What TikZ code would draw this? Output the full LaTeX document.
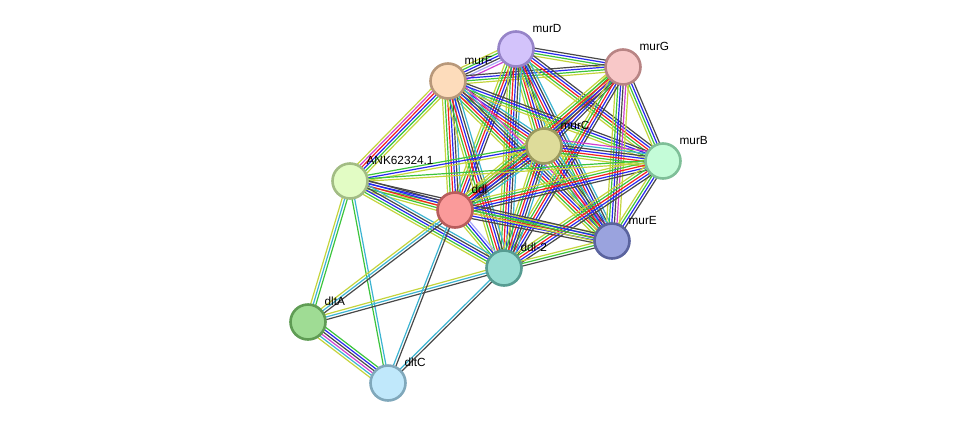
\documentclass[tikz,border=0pt]{standalone}
\usepackage{fontspec}
\setmainfont{Liberation Sans}
\usepackage{tikz}
\usetikzlibrary{
    calc,
    backgrounds
}

% Edge colours
\definecolor{egreen}{HTML}{3CC43C}
\definecolor{ered}{HTML}{F52020}
\definecolor{eblue}{HTML}{2828F0}
\definecolor{eblack}{HTML}{484848}
\definecolor{ecyan}{HTML}{3CB4D2}
\definecolor{eyel}{HTML}{C4D43C}
\definecolor{emag}{HTML}{D040D0}
\definecolor{elav}{HTML}{A8A8F8}

\tikzset{
    prot/.style={circle, minimum size=35pt, inner sep=0pt, line width=2.6pt},
    plbl/.style={font=\fontsize{11.8}{13}\selectfont, inner sep=1pt, text=black, label distance=3pt},
    link/.style={line width=1.2pt}
}

% Bundle of parallel coloured lines between two nodes
\newcommand{\linkbundle}[3]{%
    \foreach \c [count=\i] in {#3} {\xdef\bundlen{\i}}
    \foreach \c [count=\i] in {#3} {
        \pgfmathsetmacro{\off}{(\i-(\bundlen+1)/2)*2.6}
        \draw[link, \c] ($(#1.center)!\off pt!90:(#2.center)$) -- ($(#2.center)!\off pt!-90:(#1.center)$);
    }
}

\begin{document}
\begin{tikzpicture}[x=1pt, y=-1pt]
        \useasboundingbox (0,0) rectangle (975,429);

        % Draw protein nodes
        \node[prot, fill={rgb,255:red,211;green,195;blue,251}, draw={rgb,255:red,150;green,132;blue,200}, label={[plbl]45:murD}] (murD) at (516,49) {};
        \node[prot, fill={rgb,255:red,248;green,200;blue,200}, draw={rgb,255:red,184;green,132;blue,132}, label={[plbl]45:murG}] (murG) at (623,67) {};
        \node[prot, fill={rgb,255:red,253;green,220;blue,187}, draw={rgb,255:red,184;green,152;blue,122}, label={[plbl]45:murF}] (murF) at (448,81) {};
        \node[prot, fill={rgb,255:red,222;green,220;blue,154}, draw={rgb,255:red,156;green,154;blue,94}, label={[plbl]45:murC}] (murC) at (544,146) {};
        \node[prot, fill={rgb,255:red,196;green,252;blue,216}, draw={rgb,255:red,127;green,191;blue,152}, label={[plbl]45:murB}] (murB) at (663,161) {};
        \node[prot, fill={rgb,255:red,226;green,252;blue,196}, draw={rgb,255:red,162;green,188;blue,132}, label={[plbl]45:ANK62324.1}] (ank) at (350,181) {};
        \node[prot, fill={rgb,255:red,250;green,154;blue,154}, draw={rgb,255:red,184;green,92;blue,92}, label={[plbl]45:ddl}] (ddl) at (455,210) {};
        \node[prot, fill={rgb,255:red,154;green,163;blue,222}, draw={rgb,255:red,90;green,99;blue,158}, label={[plbl]45:murE}] (murE) at (612,241) {};
        \node[prot, fill={rgb,255:red,151;green,220;blue,210}, draw={rgb,255:red,87;green,156;blue,146}, label={[plbl]45:ddl-2}] (ddl2) at (504,268) {};
        \node[prot, fill={rgb,255:red,159;green,220;blue,148}, draw={rgb,255:red,95;green,156;blue,84}, label={[plbl]45:dltA}] (dltA) at (308,322) {};
        \node[prot, fill={rgb,255:red,192;green,232;blue,251}, draw={rgb,255:red,128;green,168;blue,187}, label={[plbl]45:dltC}] (dltC) at (388,383) {};

        % Draw edges behind the nodes
        \begin{pgfonlayer}{background}
            % Mur cluster
            \linkbundle{murD}{murF}{eyel,egreen,eblue,eblack,elav,emag}
            \linkbundle{murD}{murG}{eyel,egreen,eblue,eblack}
            \linkbundle{murF}{murG}{eyel,egreen,eblue,eblack}
            \linkbundle{murD}{murC}{eyel,egreen,ered,eblue,eblack,ecyan}
            \linkbundle{murD}{murB}{eyel,egreen,ered,eblue,eblack}
            \linkbundle{murD}{murE}{eyel,egreen,ered,eblue,eblack,ecyan}
            \linkbundle{murD}{ddl}{eyel,egreen,ered,eblue,eblack}
            \linkbundle{murD}{ddl2}{eyel,egreen,ered,eblue,eblack,ecyan}
            \linkbundle{murF}{murC}{eyel,egreen,ered,eblue,eblack,ecyan}
            \linkbundle{murF}{murB}{eyel,egreen,eblue,eblack}
            \linkbundle{murF}{murE}{eyel,egreen,ered,eblue,eblack,ecyan,emag}
            \linkbundle{murF}{ddl}{eyel,egreen,ered,eblue,eblack,ecyan}
            \linkbundle{murF}{ddl2}{eyel,egreen,ered,eblue,eblack,ecyan}
            \linkbundle{murG}{murC}{eyel,egreen,ered,eblue,eblack}
            \linkbundle{murG}{murB}{eyel,egreen,eblue,eblack}
            \linkbundle{murG}{murE}{eyel,egreen,eblue,eblack,emag,eyel}
            \linkbundle{murG}{ddl}{eyel,egreen,ered,eblue,eblack}
            \linkbundle{murG}{ddl2}{eyel,egreen,ered,eblue,eblack}
            \linkbundle{murC}{murB}{eyel,egreen,ered,eblue,eblack,ecyan,emag}
            \linkbundle{murC}{murE}{eyel,egreen,ered,eblue,eblack,ecyan}
            \linkbundle{murC}{ddl}{eyel,egreen,ered,eblue,eblack,ecyan}
            \linkbundle{murC}{ddl2}{eyel,egreen,ered,eblue,eblack,ecyan}
            \linkbundle{murB}{murE}{eyel,egreen,eblue,eblack}
            \linkbundle{murB}{ddl}{eyel,egreen,ered,eblue,eblack}
            \linkbundle{murB}{ddl2}{eyel,egreen,ered,eblue,eblack}
            \linkbundle{murE}{ddl}{eyel,egreen,ered,eblue,eblack}
            \linkbundle{murE}{ddl2}{eyel,egreen,eblack}
            \linkbundle{ddl}{ddl2}{eyel,egreen,eblue,elav}

            % ANK62324.1
            \linkbundle{ank}{murF}{eyel,egreen,eblue,ered,emag,eyel}
            \linkbundle{ank}{murC}{eyel,eblue,egreen}
            \linkbundle{ank}{murB}{eyel,egreen}
            \linkbundle{ank}{murE}{eyel,egreen,eblue,eblack}
            \linkbundle{ank}{ddl}{eyel,egreen,ered,eblue,eblack}
            \linkbundle{ank}{ddl2}{eyel,egreen,eblue,eblack,ecyan}

            % dlt operon
            \linkbundle{ank}{dltA}{eyel,ecyan,egreen}
            \linkbundle{ank}{dltC}{egreen,ecyan}
            \linkbundle{dltA}{dltC}{eyel,ecyan,emag,eblack,eblue,egreen}
            \linkbundle{dltA}{ddl}{eblack,ecyan,eyel}
            \linkbundle{dltA}{ddl2}{eblack,ecyan,eyel}
            \linkbundle{dltC}{ddl}{eblack,ecyan}
            \linkbundle{dltC}{ddl2}{eblack,ecyan}
        \end{pgfonlayer}

    \end{tikzpicture}
\end{document}
